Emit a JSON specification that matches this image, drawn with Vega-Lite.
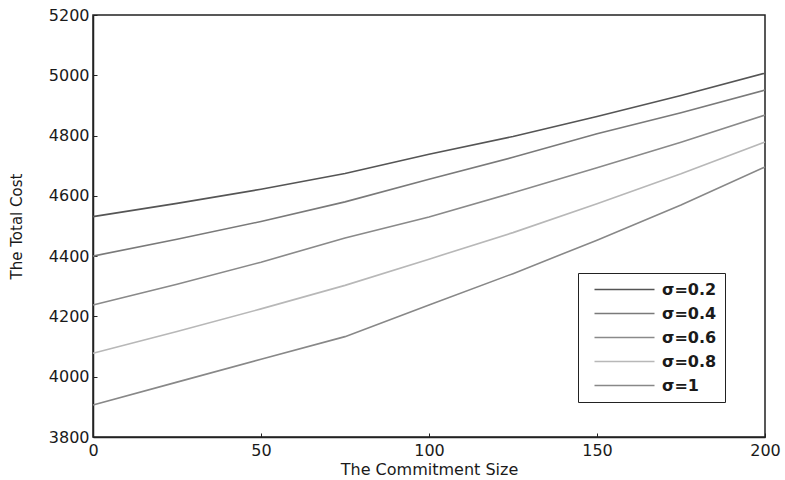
{
  "$schema": "https://vega.github.io/schema/vega-lite/v6.json",
  "width": 672,
  "height": 422,
  "autosize": {"type": "none"},
  "padding": {"left": 93, "top": 15, "right": 20, "bottom": 43},
  "background": "white",
  "config": {
    "view": {"stroke": "#222", "strokeWidth": 1.5},
    "font": "DejaVu Sans"
  },
  "data": {
    "values": [
      {"x": 0, "y": 4531, "s": "σ=0.2"}, {"x": 25, "y": 4575, "s": "σ=0.2"}, {"x": 50, "y": 4622, "s": "σ=0.2"}, {"x": 75, "y": 4674, "s": "σ=0.2"}, {"x": 100, "y": 4738, "s": "σ=0.2"}, {"x": 125, "y": 4797, "s": "σ=0.2"}, {"x": 150, "y": 4863, "s": "σ=0.2"}, {"x": 175, "y": 4933, "s": "σ=0.2"}, {"x": 200, "y": 5007, "s": "σ=0.2"},
      {"x": 0, "y": 4400, "s": "σ=0.4"}, {"x": 25, "y": 4456, "s": "σ=0.4"}, {"x": 50, "y": 4515, "s": "σ=0.4"}, {"x": 75, "y": 4580, "s": "σ=0.4"}, {"x": 100, "y": 4655, "s": "σ=0.4"}, {"x": 125, "y": 4728, "s": "σ=0.4"}, {"x": 150, "y": 4806, "s": "σ=0.4"}, {"x": 175, "y": 4876, "s": "σ=0.4"}, {"x": 200, "y": 4951, "s": "σ=0.4"},
      {"x": 0, "y": 4238, "s": "σ=0.6"}, {"x": 25, "y": 4307, "s": "σ=0.6"}, {"x": 50, "y": 4380, "s": "σ=0.6"}, {"x": 75, "y": 4460, "s": "σ=0.6"}, {"x": 100, "y": 4530, "s": "σ=0.6"}, {"x": 125, "y": 4610, "s": "σ=0.6"}, {"x": 150, "y": 4693, "s": "σ=0.6"}, {"x": 175, "y": 4778, "s": "σ=0.6"}, {"x": 200, "y": 4868, "s": "σ=0.6"},
      {"x": 0, "y": 4078, "s": "σ=0.8"}, {"x": 25, "y": 4150, "s": "σ=0.8"}, {"x": 50, "y": 4225, "s": "σ=0.8"}, {"x": 75, "y": 4303, "s": "σ=0.8"}, {"x": 100, "y": 4390, "s": "σ=0.8"}, {"x": 125, "y": 4478, "s": "σ=0.8"}, {"x": 150, "y": 4574, "s": "σ=0.8"}, {"x": 175, "y": 4673, "s": "σ=0.8"}, {"x": 200, "y": 4779, "s": "σ=0.8"},
      {"x": 0, "y": 3906, "s": "σ=1"}, {"x": 25, "y": 3982, "s": "σ=1"}, {"x": 50, "y": 4058, "s": "σ=1"}, {"x": 75, "y": 4133, "s": "σ=1"}, {"x": 100, "y": 4238, "s": "σ=1"}, {"x": 125, "y": 4342, "s": "σ=1"}, {"x": 150, "y": 4453, "s": "σ=1"}, {"x": 175, "y": 4570, "s": "σ=1"}, {"x": 200, "y": 4696, "s": "σ=1"}
    ]
  },
  "mark": {"type": "line", "strokeWidth": 1.6},
  "encoding": {
    "x": {
      "field": "x", "type": "quantitative",
      "scale": {"domain": [0, 200], "nice": false},
      "axis": {
        "values": [0, 50, 100, 150, 200], "format": "d", "grid": false, "tickSize": -4, "tickColor": "#222",
        "domainColor": "#222", "domainWidth": 1.5, "labelFontSize": 16, "labelColor": "#1a1a1a",
        "labelPadding": 9, "labelFlush": false, "title": "The Commitment Size",
        "titleFontSize": 16, "titleFontWeight": "normal", "titleColor": "#1a1a1a", "titlePadding": 3
      }
    },
    "y": {
      "field": "y", "type": "quantitative",
      "scale": {"domain": [3800, 5200], "nice": false, "zero": false},
      "axis": {
        "values": [3800, 4000, 4200, 4400, 4600, 4800, 5000, 5200], "format": "d", "grid": false, "tickSize": -4,
        "tickColor": "#222", "domainColor": "#222", "domainWidth": 1.5, "labelFontSize": 16,
        "labelColor": "#1a1a1a", "labelPadding": 8, "labelFlush": false, "title": "The Total Cost",
        "titleFontSize": 15, "titleFontWeight": "normal", "titleColor": "#1a1a1a", "titlePadding": 24
      }
    },
    "color": {
      "field": "s", "type": "nominal",
      "scale": {
        "domain": ["σ=0.2", "σ=0.4", "σ=0.6", "σ=0.8", "σ=1"],
        "range": ["#555555", "#7a7a7a", "#8a8a8a", "#b8b8b8", "#888888"]
      },
      "legend": {
        "title": null, "orient": "none", "legendX": 485, "legendY": 258,
        "symbolType": "M0,0H8", "symbolSize": 225, "symbolStrokeWidth": 1.6,
        "labelFontSize": 16, "labelColor": "#1a1a1a", "labelFontWeight": "bold",
        "strokeColor": "#222", "padding": 8, "rowPadding": 7, "labelOffset": 59,
        "fillColor": "white"
      }
    }
  }
}
